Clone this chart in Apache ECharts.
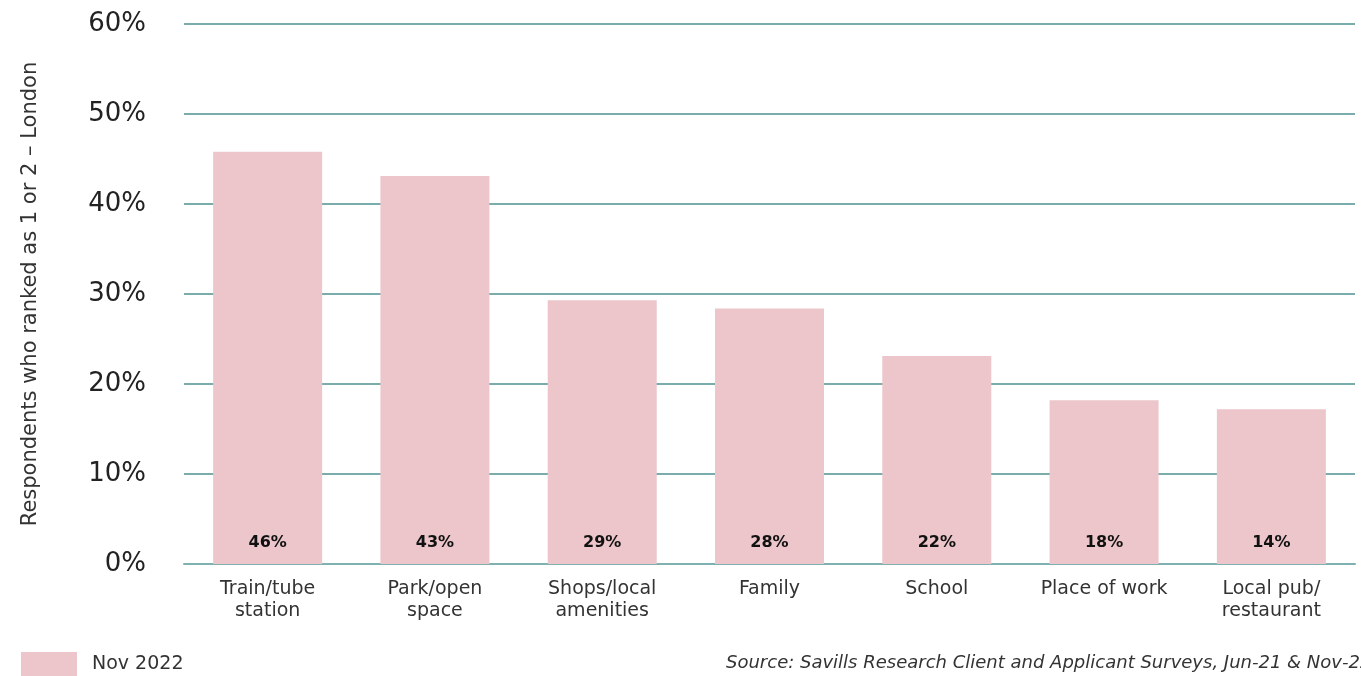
<!DOCTYPE html>
<html>
<head>
<meta charset="utf-8">
<script src="https://cdn.jsdelivr.net/npm/echarts@6/dist/echarts.min.js"></script>
<style>
html,body{margin:0;padding:0;background:#fff;}
#chart{width:1361px;height:676px;}
</style>
</head>
<body>
<div id="chart"></div>
<script>
const categories = ['Train/tube\nstation', 'Park/open\nspace', 'Shops/local\namenities', 'Family', 'School', 'Place of work', 'Local pub/\nrestaurant'];
const barValues = [45.8, 43.1, 29.3, 28.4, 23.1, 18.2, 17.2];
const barLabels = ['46%', '43%', '29%', '28%', '22%', '18%', '14%'];
const yTicks = [0, 10, 20, 30, 40, 50, 60];
const seriesName = 'Nov 2022';
const yAxisTitle = 'Respondents who ranked as 1 or 2 – London';
const sourceText = 'Source: Savills Research Client and Applicant Surveys, Jun-21 & Nov-22';

const FONT = 'DejaVu Sans';
const chart = echarts.init(document.getElementById('chart'));
chart.setOption({
  animation: false,
  backgroundColor: '#fff',
  textStyle: { fontFamily: FONT },
  grid: { left: 184, right: 6, top: 24, bottom: 112, containLabel: false },
  legend: {
    left: 21, top: 652, padding: 0, icon: 'rect', itemWidth: 56, itemHeight: 24, itemGap: 10,
    textStyle: { fontFamily: FONT, fontSize: 19, color: '#333', padding: [0, 0, 0, 10] },
    data: [seriesName]
  },
  xAxis: {
    type: 'category',
    data: categories,
    axisLine: { show: true, lineStyle: { color: '#7fb1b1', width: 2 } },
    axisTick: { show: false },
    axisLabel: { fontFamily: FONT, fontSize: 19, color: '#333', lineHeight: 22, margin: 14, interval: 0 }
  },
  yAxis: {
    type: 'value',
    min: yTicks[0], max: yTicks[yTicks.length - 1], interval: 10,
    name: yAxisTitle,
    nameLocation: 'middle',
    nameGap: 143,
    nameRotate: 90,
    nameTextStyle: { fontFamily: FONT, fontSize: 21, color: '#333' },
    axisLine: { show: false },
    axisTick: { show: false },
    splitLine: { lineStyle: { color: '#4f9191', width: 1.5 } },
    axisLabel: { fontFamily: FONT, fontSize: 26, color: '#222', margin: 38, formatter: v => v + '%' }
  },
  series: [{
    name: seriesName,
    type: 'bar',
    data: barValues,
    barWidth: 109,
    itemStyle: { color: '#ecc6ca' },
    label: {
      show: true, position: 'insideBottom', distance: 13,
      fontFamily: FONT, fontSize: 16, fontWeight: 'bold', color: '#111',
      formatter: p => barLabels[p.dataIndex]
    }
  }],
  graphic: [{
    type: 'text', left: 726, top: 654,
    style: { text: sourceText, font: 'italic 18px "DejaVu Sans"', fill: '#333' }
  }]
});
</script>
</body>
</html>
